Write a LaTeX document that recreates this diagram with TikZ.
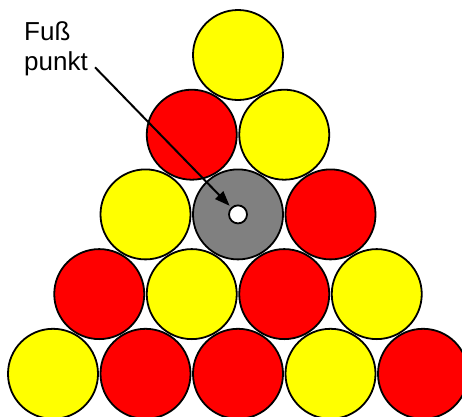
\documentclass[tikz,border=0pt]{standalone}
\usepackage{fontspec}
\setmainfont{Liberation Sans}
\usetikzlibrary{arrows.meta}
\definecolor{ballyellow}{RGB}{255,255,0}
\definecolor{ballred}{RGB}{255,0,0}
\definecolor{ballgray}{RGB}{128,128,128}
\tikzset{
  ball/.style={circle,draw=black,line width=1.8pt,minimum size=90pt,inner sep=0pt,outer sep=0pt},
  yb/.style={ball,fill=ballyellow},
  rb/.style={ball,fill=ballred},
  gb/.style={ball,fill=ballgray},
  holebox/.style={circle,draw=black,line width=1.8pt,fill=white,minimum size=18pt,inner sep=0pt,outer sep=0pt},
  lbl/.style={font=\fontsize{26}{30}\selectfont,inner sep=0pt,anchor=base west},
  pointer/.style={line width=2pt,-{Triangle[length=15pt,width=11pt]},shorten >=3pt}
}
\begin{document}
\begin{tikzpicture}[x=1pt,y=-1pt]
\useasboundingbox (0,0) rectangle (462,416);
% row 0
\node[yb] (b00) at (238,55) {};
% row 1
\node[rb] (b10) at (191.75,134.7) {};
\node[yb] (b11) at (284.25,134.7) {};
% row 2
\node[yb] (b20) at (145.5,214.4) {};
\node[gb] (b21) at (238,214.4) {};
\node[rb] (b22) at (330.5,214.4) {};
% row 3
\node[rb] (b30) at (99.25,294.1) {};
\node[yb] (b31) at (191.75,294.1) {};
\node[rb] (b32) at (284.25,294.1) {};
\node[yb] (b33) at (376.75,294.1) {};
% row 4
\node[yb] (b40) at (53,373.8) {};
\node[rb] (b41) at (145.5,373.8) {};
\node[rb] (b42) at (238,373.8) {};
\node[yb] (b43) at (330.5,373.8) {};
\node[rb] (b44) at (423,373.8) {};
% hole
\node[holebox] (hole) at (b21) {};
% label
\node[lbl] (fuss) at (24,40) {Fuß};
\node[lbl] (punkt) at (24,70) {punkt};
\draw[pointer] ([shift={(7pt,-4pt)}]punkt.east) -- (hole);
\end{tikzpicture}
\end{document}
